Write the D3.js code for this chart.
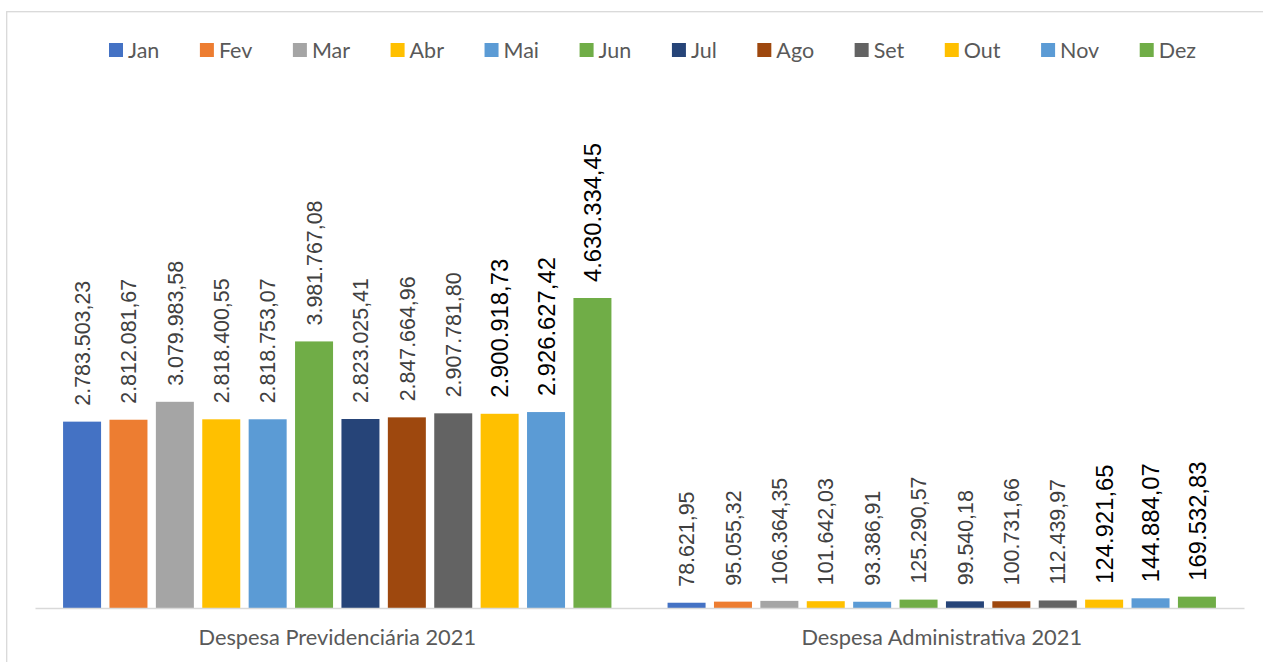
<!DOCTYPE html>
<html>
<head>
<meta charset="utf-8">
<script src="https://cdn.jsdelivr.net/npm/d3@7"></script>
<style>
  body { margin: 0; background: #fff; }
</style>
</head>
<body>
<svg id="chart" width="1263" height="662"></svg>
<script>
// data
const months = ["Jan", "Fev", "Mar", "Abr", "Mai", "Jun", "Jul", "Ago", "Set", "Out", "Nov", "Dez"];
const categories = ["Despesa Previdenciária 2021", "Despesa Administrativa 2021"];
const previdenciaria = [2783503.23, 2812081.67, 3079983.58, 2818400.55, 2818753.07, 3981767.08,
                        2823025.41, 2847664.96, 2907781.80, 2900918.73, 2926627.42, 4630334.45];
const administrativa = [78621.95, 95055.32, 106364.35, 101642.03, 93386.91, 125290.57,
                        99540.18, 100731.66, 112439.97, 124921.65, 144884.07, 169532.83];
const seriesByCategory = [previdenciaria, administrativa];

const colors = ["#4472C4", "#ED7D31", "#A5A5A5", "#FFC000", "#5B9BD5", "#70AD47",
                "#264478", "#9E480E", "#636363", "#FFC000", "#5B9BD5", "#70AD47"];
const bigLabels = ["Out", "Nov", "Dez"]; // these labels are bigger/black in the original

const svg = d3.select("#chart");
const width = +svg.attr("width");
const height = +svg.attr("height");

// outer frame (goes off the right/bottom edge)
svg.append("rect")
    .attr("x", 6.7).attr("y", 11.7)
    .attr("width", 1400).attr("height", 800)
    .attr("fill", "none")
    .attr("stroke", "#d9d9d9")
    .attr("stroke-width", 1.3)

const margin = ({top: 273.25, left: 35, right: width - 1244, bottom: height - 608})

const x0 = d3.scaleBand()
    .domain(categories)
    .range([margin.left, width - margin.right])

const x1 = d3.scaleBand()
    .domain(months)
    .range([0, x0.bandwidth()])
    .paddingInner(0.181)
    .paddingOuter(0.605)

const y = d3.scaleLinear()
    .domain([0, 5000000])
    .range([height - margin.bottom, margin.top])

const ptBR = d3.formatLocale({decimal: ",", thousands: ".", grouping: [3], currency: ["R$", ""]});
const fmt = ptBR.format(",.2f");

const rows = categories.map((c, ci) => ({
    cat: c,
    values: months.map((m, mi) => ({month: m, value: seriesByCategory[ci][mi], color: colors[mi]}))
}))

const groups = svg.append("g")
    .selectAll("g")
    .data(rows)
    .join("g")
    .attr("transform", d => `translate(${x0(d.cat)},0)`)

groups.selectAll("rect")
    .data(d => d.values)
    .join("rect")
    .attr("x", d => x1(d.month))
    .attr("y", d => y(d.value))
    .attr("width", x1.bandwidth())
    .attr("height", d => y(0) - y(d.value))
    .attr("fill", d => d.color)

// value labels, rotated
groups.selectAll("text")
    .data(d => d.values)
    .join("text")
    .attr("transform", d => `translate(${x1(d.month) + x1.bandwidth() / 2},${y(d.value) - 16}) rotate(-90)`)
    .attr("dy", "0.36em")
    .attr("text-anchor", "start")
    .style("font-family", "'Liberation Sans', Arial, sans-serif")
    .style("font-size", d => bigLabels.includes(d.month) ? "23.8px" : "21.4px")
    .style("fill", d => bigLabels.includes(d.month) ? "#000" : "#404040")
    .text(d => fmt(d.value))

// x axis
const xAxis = g => g
    .attr("transform", `translate(0,${height - margin.bottom})`)
    .call(d3.axisBottom(x0).tickSize(0).tickPadding(22))
    .call(g => g.select(".domain").attr("stroke", "#d9d9d9").attr("stroke-width", 1.5))
    .call(g => g.selectAll("text")
        .style("font-family", "Lato, 'Open Sans', sans-serif")
        .style("font-size", "21.8px")
        .style("fill", "#595959"))

svg.append("g").call(xAxis)

// legend
const legend = svg.append("g")
    .style("font-family", "Lato, 'Open Sans', sans-serif")
    .style("font-size", "21.5px")
    .style("fill", "#595959")

const items = legend.selectAll("g")
    .data(months)
    .join("g")

items.append("rect")
    .attr("width", 14).attr("height", 14)
    .attr("y", 43)
    .attr("fill", (d, i) => colors[i])

items.append("text")
    .attr("x", 19)
    .attr("y", 57.5)
    .text(d => d)

// spread legend items the same way excel does (left 109 -> right 1196)
const textW = items.select("text").nodes().map(n => n.getComputedTextLength())
const legLeft = 109, legRight = 1196
const itemW = textW.map(w => 19 + w)
const gap = (legRight - legLeft - d3.sum(itemW)) / (months.length - 1)
let cx = legLeft
items.attr("transform", (d, i) => {
    const t = `translate(${cx},0)`
    cx += itemW[i] + gap
    return t
})
</script>
</body>
</html>
